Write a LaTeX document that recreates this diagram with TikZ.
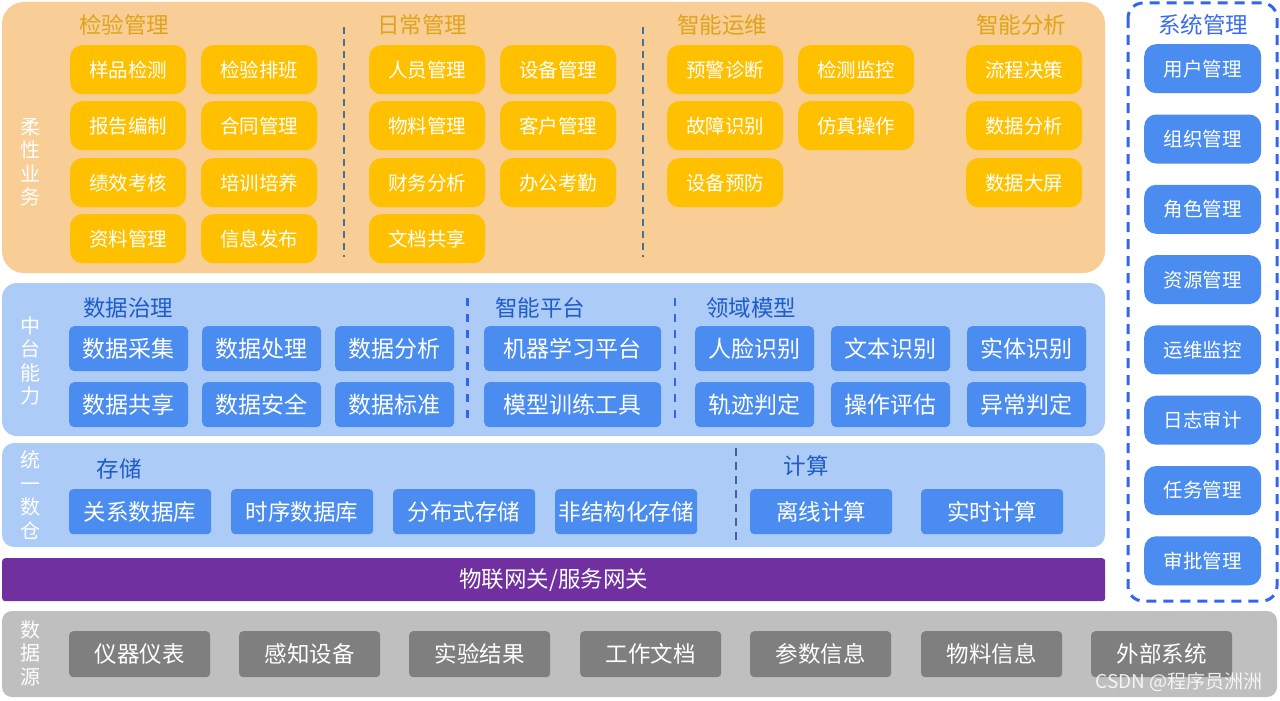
\documentclass[tikz,border=0pt]{standalone}
\usepackage{fontspec}
\setmainfont{Noto Sans CJK SC}
\definecolor{panelorange}{HTML}{F8CD96}
\definecolor{boxorange}{HTML}{FFC000}
\definecolor{titleorange}{HTML}{E0A419}
\definecolor{dashteal}{HTML}{41719C}
\definecolor{panelblue}{HTML}{ACCBF7}
\definecolor{boxblue}{HTML}{4A8CEF}
\definecolor{titleblue}{HTML}{1F5CC8}
\definecolor{dashblue}{HTML}{3366F0}
\definecolor{dashdark}{HTML}{44619D}
\definecolor{sysblue}{HTML}{3A6CF0}
\definecolor{gwpurple}{HTML}{7030A0}
\definecolor{panelgray}{HTML}{BFBFBF}
\definecolor{boxgray}{HTML}{7F7F7F}
\begin{document}
\begin{tikzpicture}[x=1pt,y=-1pt,
  box/.style={anchor=north west, inner sep=0pt, text=white, align=center},
  obox/.style={box, fill=boxorange, rounded corners=12pt, minimum width=116pt, minimum height=49pt, font=\fontsize{19.5}{20}\selectfont},
  sysbox/.style={box, fill=boxblue, rounded corners=12pt, minimum width=117pt, minimum height=49pt, font=\fontsize{19.5}{20}\selectfont},
  mbox/.style={box, fill=boxblue, rounded corners=5pt, minimum width=119pt, minimum height=45pt, font=\fontsize{23}{24}\selectfont},
  wbox/.style={mbox, minimum width=177pt},
  sbox/.style={box, fill=boxblue, rounded corners=4pt, minimum width=142pt, minimum height=45pt, font=\fontsize{22.5}{24}\selectfont},
  gbox/.style={box, fill=boxgray, rounded corners=4pt, minimum width=141pt, minimum height=46pt, font=\fontsize{22.5}{24}\selectfont},
  otitle/.style={text=titleorange, inner sep=0pt, font=\fontsize{22.5}{24}\selectfont},
  btitle/.style={text=titleblue, inner sep=0pt, font=\fontsize{22.5}{24}\selectfont},
  vlabel/.style={text=white, inner sep=0pt, align=center, font=\fontsize{20}{23.5}\selectfont},
  septeal/.style={draw=dashteal, line width=2pt, dash pattern=on 7pt off 5pt},
  sepblue/.style={draw=dashblue, line width=2.5pt, dash pattern=on 8pt off 8pt},
  sepdark/.style={draw=dashdark, line width=2pt, dash pattern=on 8pt off 6pt}
]
\useasboundingbox (0,0) rectangle (1280,701);
\fill[white] (0,0) rectangle (1280,701);

% ---------------- panels ----------------
\fill[panelorange, rounded corners=22pt] (2,2) rectangle (1105,273);
\fill[panelblue, rounded corners=15pt] (2,283) rectangle (1105,436);
\fill[panelblue, rounded corners=12pt] (2,443) rectangle (1105,547);
\fill[panelgray, rounded corners=10pt] (2,611) rectangle (1277,697);
\draw[dashblue, line width=3pt, dash pattern=on 10pt off 7pt, rounded corners=15pt] (1128,3) rectangle (1277,601);

% purple gateway bar
\node[fill=gwpurple, rounded corners=3pt, minimum width=1103pt, minimum height=43pt, inner sep=0pt, anchor=north west, text=white, font=\fontsize{22.5}{24}\selectfont] (gw) at (2,558) {物联网关/服务网关};

% ---------------- side labels ----------------
\node[vlabel] (l1) at (30,162) {柔\\性\\业\\务};
\node[vlabel] (l2) at (30,361) {中\\台\\能\\力};
\node[vlabel] (l3) at (30,495) {统\\一\\数\\仓};
\node[vlabel] (l4) at (30,653) {数\\据\\源};

% ---------------- titles ----------------
\node[otitle] (t1) at (124,25) {检验管理};
\node[otitle] (t2) at (422,25) {日常管理};
\node[otitle] (t3) at (722,25) {智能运维};
\node[otitle] (t4) at (1021,25) {智能分析};
\node[text=sysblue, inner sep=0pt, font=\fontsize{22.5}{24}\selectfont] (t5) at (1203,25) {系统管理};
\node[btitle] (t6) at (128,308) {数据治理};
\node[btitle] (t7) at (540,308) {智能平台};
\node[btitle] (t8) at (751,308) {领域模型};
\node[btitle] (t9) at (119,469) {存储};
\node[btitle] (t10) at (806,466) {计算};

% ---------------- separators ----------------
\draw[septeal] (344,27) -- (344,257);
\draw[septeal] (643,27) -- (643,257);
\draw[sepblue] (467.5,298) -- (467.5,425);
\draw[sepblue] (675,298) -- (675,425);
\draw[sepdark] (736,448) -- (736,540);

% ---------------- orange boxes ----------------
\foreach \t [count=\i] in {样品检测,报告编制,绩效考核,资料管理}
  {\pgfmathsetmacro\yy{{45,101,158,214}[\i-1]}\node[obox] (oa\i) at (70,\yy) {\t};}
\foreach \t [count=\i] in {检验排班,合同管理,培训培养,信息发布}
  {\pgfmathsetmacro\yy{{45,101,158,214}[\i-1]}\node[obox] (ob\i) at (201,\yy) {\t};}
\foreach \t [count=\i] in {人员管理,物料管理,财务分析,文档共享}
  {\pgfmathsetmacro\yy{{45,101,158,214}[\i-1]}\node[obox] (oc\i) at (369,\yy) {\t};}
\foreach \t [count=\i] in {设备管理,客户管理,办公考勤}
  {\pgfmathsetmacro\yy{{45,101,158,214}[\i-1]}\node[obox] (od\i) at (500,\yy) {\t};}
\foreach \t [count=\i] in {预警诊断,故障识别,设备预防}
  {\pgfmathsetmacro\yy{{45,101,158,214}[\i-1]}\node[obox] (oe\i) at (667,\yy) {\t};}
\foreach \t [count=\i] in {检测监控,仿真操作}
  {\pgfmathsetmacro\yy{{45,101,158,214}[\i-1]}\node[obox] (of\i) at (798,\yy) {\t};}
\foreach \t [count=\i] in {流程决策,数据分析,数据大屏}
  {\pgfmathsetmacro\yy{{45,101,158,214}[\i-1]}\node[obox] (og\i) at (966,\yy) {\t};}

% ---------------- system management ----------------
\foreach \t [count=\i] in {用户管理,组织管理,角色管理,资源管理,运维监控,日志审计,任务管理,审批管理}
  {\node[sysbox] (s\i) at (1144,{44+70.3*(\i-1)}) {\t};}

% ---------------- middle platform ----------------
\node[mbox] (ma1) at (69,326) {数据采集};
\node[mbox] (ma2) at (69,382) {数据共享};
\node[mbox] (mb1) at (202,326) {数据处理};
\node[mbox] (mb2) at (202,382) {数据安全};
\node[mbox] (mc1) at (335,326) {数据分析};
\node[mbox] (mc2) at (335,382) {数据标准};
\node[wbox] (mp1) at (484,326) {机器学习平台};
\node[wbox] (mp2) at (484,382) {模型训练工具};
\node[mbox] (md1) at (695,326) {人脸识别};
\node[mbox] (md2) at (695,382) {轨迹判定};
\node[mbox] (me1) at (831,326) {文本识别};
\node[mbox] (me2) at (831,382) {操作评估};
\node[mbox] (mf1) at (967,326) {实体识别};
\node[mbox] (mf2) at (967,382) {异常判定};

% ---------------- storage / compute ----------------
\node[sbox] (st1) at (69,489) {关系数据库};
\node[sbox] (st2) at (231,489) {时序数据库};
\node[sbox] (st3) at (393,489) {分布式存储};
\node[sbox] (st4) at (555,489) {非结构化存储};
\node[sbox] (cp1) at (750,489) {离线计算};
\node[sbox] (cp2) at (921,489) {实时计算};

% ---------------- data sources ----------------
\node[gbox] (ds1) at (69,631) {仪器仪表};
\node[gbox] (ds2) at (239,631) {感知设备};
\node[gbox] (ds3) at (409,631) {实验结果};
\node[gbox] (ds4) at (580,631) {工作文档};
\node[gbox] (ds5) at (750,631) {参数信息};
\node[gbox] (ds6) at (921,631) {物料信息};
\node[gbox] (ds7) at (1091,631) {外部系统};

% watermark
\node[text=white, opacity=0.85, inner sep=0pt, font=\fontsize{19}{20}\selectfont] (wm) at (1179,682) {CSDN @程序员洲洲};
\end{tikzpicture}
\end{document}
